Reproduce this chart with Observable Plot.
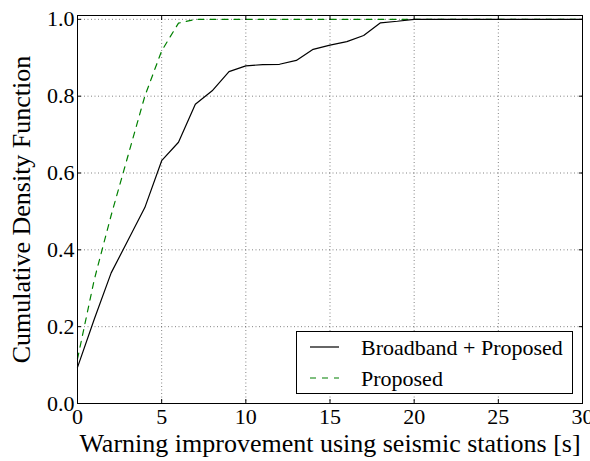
<!DOCTYPE html>
<html><head><meta charset="utf-8">
<script src="https://cdn.jsdelivr.net/npm/d3@7"></script>
<script src="https://cdn.jsdelivr.net/npm/@observablehq/plot@0.6"></script>
<style>
body{margin:0;background:#fff}
#chart svg, #chart svg text{font-family:"Liberation Serif","DejaVu Serif",serif !important}
</style>
</head><body><div id="chart"></div>
<script>
const xs = [0,1,2,3,4,5,6,7,8,9,10,11,12,13,14,15,16,17,18,19,20,21,22,23,24,25,26,27,28,29,30];
const broadband = [0.094,0.22,0.34,0.425,0.51,0.632,0.68,0.779,0.814,0.864,0.879,0.882,0.883,0.893,0.922,0.933,0.942,0.958,0.991,0.995,1.0,1.0,1.0,1.0,1.0,1.0,1.0,1.0,1.0,1.0,1.0];
const proposed  = [0.116,0.323,0.49,0.645,0.80,0.918,0.99,1.0,1.0,1.0,1.0,1.0,1.0,1.0,1.0,1.0,1.0,1.0,1.0,1.0,1.0,1.0,1.0,1.0,1.0,1.0,1.0,1.0,1.0,1.0,1.0];
const seriesNames = ["Broadband + Proposed","Proposed"];
const seriesColors = ["#000000","#008000"];
const seriesDash = [null,"6,6"];
const xTicks = [0,5,10,15,20,25,30];
const yTicks = [0,0.2,0.4,0.6,0.8,1.0];
const xTitle = "Warning improvement using seismic stations [s]";
const yTitle = "Cumulative Density Function";

const rowsB = xs.map((x,i)=>({x, y: broadband[i]}));
const rowsP = xs.map((x,i)=>({x, y: proposed[i]}));

const gridStyle = {stroke:"#000", strokeOpacity:0.55, strokeDasharray:"1,2.5", strokeWidth:0.9};

const plot = Plot.plot({
  width: 590, height: 461,
  marginLeft: 77, marginRight: 8, marginTop: 15, marginBottom: 58,
  style: {fontFamily: "'Liberation Serif', 'DejaVu Serif', serif", fontSize: "22px", background: "#fff", color: "#000", overflow: "visible"},
  x: {domain: [0, 30]},
  y: {domain: [0, 1.01]},
  marks: [
    Plot.gridX(xTicks, gridStyle),
    Plot.gridY(yTicks, gridStyle),
    Plot.lineY(rowsP, {x: "x", y: "y", stroke: seriesColors[1], strokeDasharray: seriesDash[1], strokeWidth: 1.2}),
    Plot.lineY(rowsB, {x: "x", y: "y", stroke: seriesColors[0], strokeWidth: 1.2}),
    Plot.frame({stroke: "#000", strokeWidth: 1}),
    Plot.axisX(xTicks, {anchor: "bottom", tickSize: -4, tickPadding: 9, tickFormat: d => String(d), label: xTitle, labelAnchor: "center", labelArrow: "none", labelOffset: 48, fontSize: 22}),
    Plot.axisX(xTicks, {anchor: "top", tickSize: -4, text: null, label: null}),
    Plot.axisY(yTicks, {anchor: "left", tickSize: -4, tickPadding: 7, tickFormat: d => d.toFixed(1), label: yTitle, labelAnchor: "center", labelArrow: "none", labelOffset: 66, fontSize: 22}),
    Plot.axisY(yTicks, {anchor: "right", tickSize: -4, text: null, label: null})
  ]
});
document.getElementById("chart").appendChild(plot);

const svg = d3.select(plot);
const lg = svg.append("g").attr("class","legend").attr("text-anchor","start");
lg.append("rect").attr("x",296.5).attr("y",331.5).attr("width",276).attr("height",62)
  .attr("fill","#fff").attr("stroke","#000").attr("stroke-width",1);
const rowY = [347, 378];
seriesNames.forEach((name,i)=>{
  lg.append("line").attr("x1",310).attr("x2",339).attr("y1",rowY[i]).attr("y2",rowY[i])
    .attr("stroke",seriesColors[i]).attr("stroke-width",1.2)
    .attr("stroke-dasharray",seriesDash[i]);
  lg.append("text").attr("x",361).attr("y",rowY[i]).attr("dy","0.35em")
    .attr("text-anchor","start")
    .attr("font-size","22px").attr("fill","#000").text(name);
});
svg.selectAll("[aria-label$='axis label'] text").attr("font-size","26px");
</script>
</body></html>
